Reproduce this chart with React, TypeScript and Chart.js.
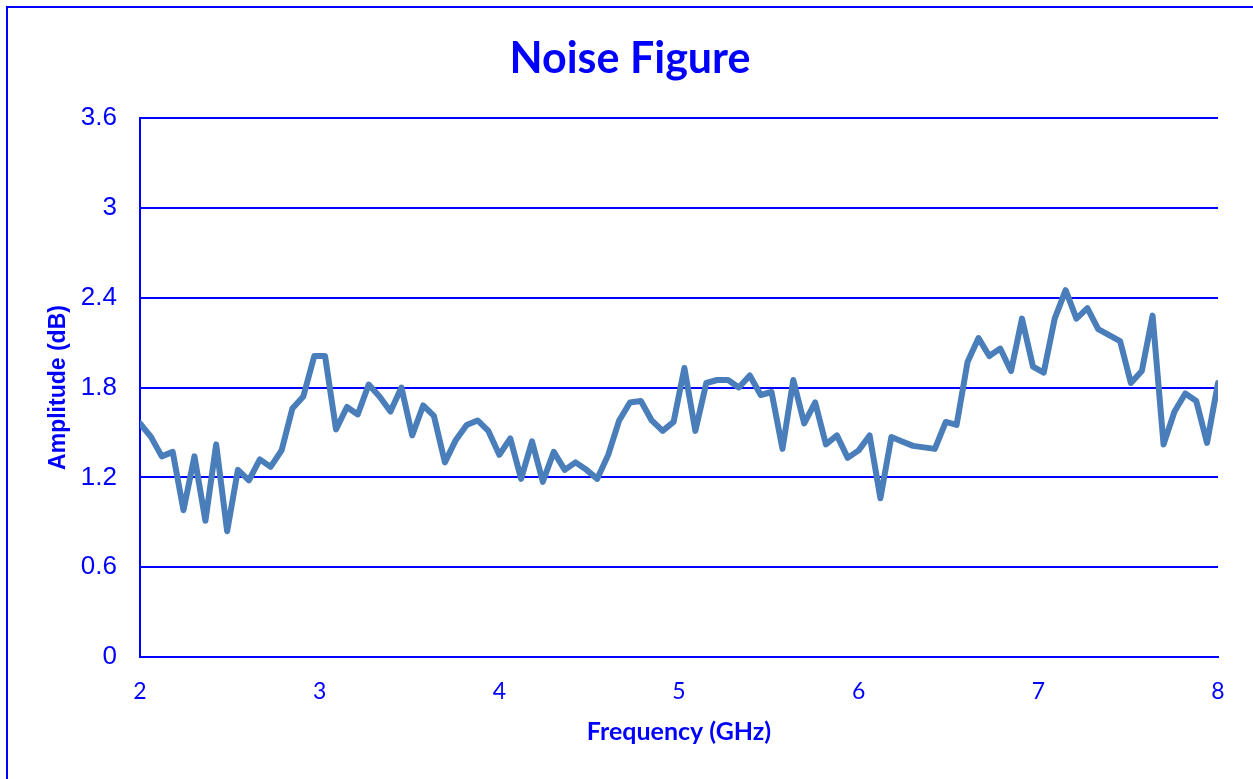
import React, { useEffect, useRef } from "react";
import { Chart, registerables } from "chart.js";

Chart.register(...registerables);

const frequencyGHz = [
  2.0, 2.061, 2.121, 2.182, 2.242, 2.303, 2.364, 2.424, 2.485, 2.545,
  2.606, 2.667, 2.727, 2.788, 2.848, 2.909, 2.97, 3.03, 3.091, 3.152,
  3.212, 3.273, 3.333, 3.394, 3.455, 3.515, 3.576, 3.636, 3.697, 3.758,
  3.818, 3.879, 3.939, 4.0, 4.061, 4.121, 4.182, 4.242, 4.303, 4.364,
  4.424, 4.485, 4.545, 4.606, 4.667, 4.727, 4.788, 4.848, 4.909, 4.97,
  5.03, 5.091, 5.152, 5.212, 5.273, 5.333, 5.394, 5.455, 5.515, 5.576,
  5.636, 5.697, 5.758, 5.818, 5.879, 5.939, 6.0, 6.061, 6.121, 6.182,
  6.242, 6.303, 6.364, 6.424, 6.485, 6.545, 6.606, 6.667, 6.727, 6.788,
  6.848, 6.909, 6.97, 7.03, 7.091, 7.152, 7.212, 7.273, 7.333, 7.394,
  7.455, 7.515, 7.576, 7.636, 7.697, 7.758, 7.818, 7.879, 7.939, 8.0,
];

const noiseFigureDb = [
  1.56, 1.47, 1.34, 1.37, 0.98, 1.34, 0.91, 1.42, 0.84, 1.25,
  1.18, 1.32, 1.27, 1.38, 1.66, 1.74, 2.01, 2.01, 1.52, 1.67,
  1.62, 1.82, 1.74, 1.64, 1.8, 1.48, 1.68, 1.61, 1.3, 1.45,
  1.55, 1.58, 1.51, 1.35, 1.46, 1.19, 1.44, 1.17, 1.37, 1.25,
  1.3, 1.25, 1.19, 1.35, 1.58, 1.7, 1.71, 1.58, 1.51, 1.57,
  1.93, 1.51, 1.83, 1.85, 1.85, 1.8, 1.88, 1.75, 1.77, 1.39,
  1.85, 1.56, 1.7, 1.42, 1.48, 1.33, 1.38, 1.48, 1.06, 1.47,
  1.44, 1.41, 1.4, 1.39, 1.57, 1.55, 1.97, 2.13, 2.01, 2.06,
  1.91, 2.26, 1.94, 1.9, 2.26, 2.45, 2.26, 2.33, 2.19, 2.15,
  2.11, 1.83, 1.91, 2.28, 1.42, 1.64, 1.76, 1.71, 1.43, 1.83,
];

const titleText = "Noise Figure";
const xAxisTitle = "Frequency (GHz)";
const yAxisTitle = "Amplitude (dB)";
const xTickRange = [2, 8];
const yTickRange = [0, 3.6];

const BLUE = "#0000FF";
const LINE = "#4A7EBB";

const titlePlugin = {
  id: "centeredTitle",
  afterDraw(chart: any) {
    const ctx = chart.ctx;
    ctx.save();
    ctx.fillStyle = BLUE;
    ctx.font = "bold 43px Lato";
    ctx.textAlign = "center";
    ctx.textBaseline = "alphabetic";
    ctx.fillText(titleText, 630, 73);
    ctx.restore();
  },
};

export default function App() {
  const ref = useRef<HTMLCanvasElement | null>(null);

  useEffect(() => {
    if (!ref.current) return;
    const chart = new Chart(ref.current, {
      type: "line",
      data: {
        datasets: [
          {
            data: frequencyGHz.map((f, i) => ({ x: f, y: noiseFigureDb[i] })),
            borderColor: LINE,
            backgroundColor: LINE,
            borderWidth: 6,
            pointRadius: 0,
            tension: 0,
            borderJoinStyle: "round",
            borderCapStyle: "round",
          },
        ],
      },
      plugins: [titlePlugin],
      options: {
        responsive: false,
        animation: false,
        devicePixelRatio: 1,
        layout: { padding: { top: 118, right: 35, left: 0, bottom: 0 } },
        plugins: {
          legend: { display: false },
          title: { display: false },
          tooltip: { enabled: false },
        },
        scales: {
          x: {
            type: "linear",
            min: xTickRange[0],
            max: xTickRange[1],
            afterFit: (s: any) => {
              s.height = 122;
            },
            ticks: {
              stepSize: 1,
              color: BLUE,
              font: { family: "Lato", size: 23 },
              padding: 21,
              maxRotation: 0,
            },
            grid: { display: false, drawTicks: false },
            border: { display: true, color: BLUE, width: 2 },
            title: {
              display: true,
              text: xAxisTitle,
              color: BLUE,
              font: { family: "Lato", size: 25, weight: "bold" },
              padding: { top: 0, bottom: 32 },
            },
          },
          y: {
            type: "linear",
            min: yTickRange[0],
            max: yTickRange[1],
            afterFit: (s: any) => {
              s.width = 140;
            },
            ticks: {
              stepSize: 0.6,
              color: BLUE,
              font: { family: "Liberation Sans", size: 26 },
              padding: 23,
              callback: (v: any) =>
                Number(v).toLocaleString("en-US", { maximumFractionDigits: 1 }),
            },
            grid: { color: BLUE, lineWidth: 2, drawTicks: false },
            border: { display: true, color: BLUE, width: 2 },
            title: {
              display: true,
              text: yAxisTitle,
              color: BLUE,
              font: { family: "Liberation Sans", size: 23, weight: "bold" },
              padding: { top: 45, bottom: 0 },
            },
          },
        },
      },
    } as any);
    return () => chart.destroy();
  }, []);

  return (
    <div
      style={{
        position: "fixed",
        left: 0,
        top: 0,
        width: 1253,
        height: 779,
        background: "#fff",
        overflow: "hidden",
      }}
    >
      <div
        style={{
          position: "absolute",
          left: 6,
          top: 6,
          width: 1280,
          height: 820,
          border: `2px solid ${BLUE}`,
          boxSizing: "border-box",
        }}
      />
      <canvas
        ref={ref}
        width={1253}
        height={779}
        style={{ position: "absolute", left: 0, top: 0, width: 1253, height: 779 }}
      />
    </div>
  );
}
